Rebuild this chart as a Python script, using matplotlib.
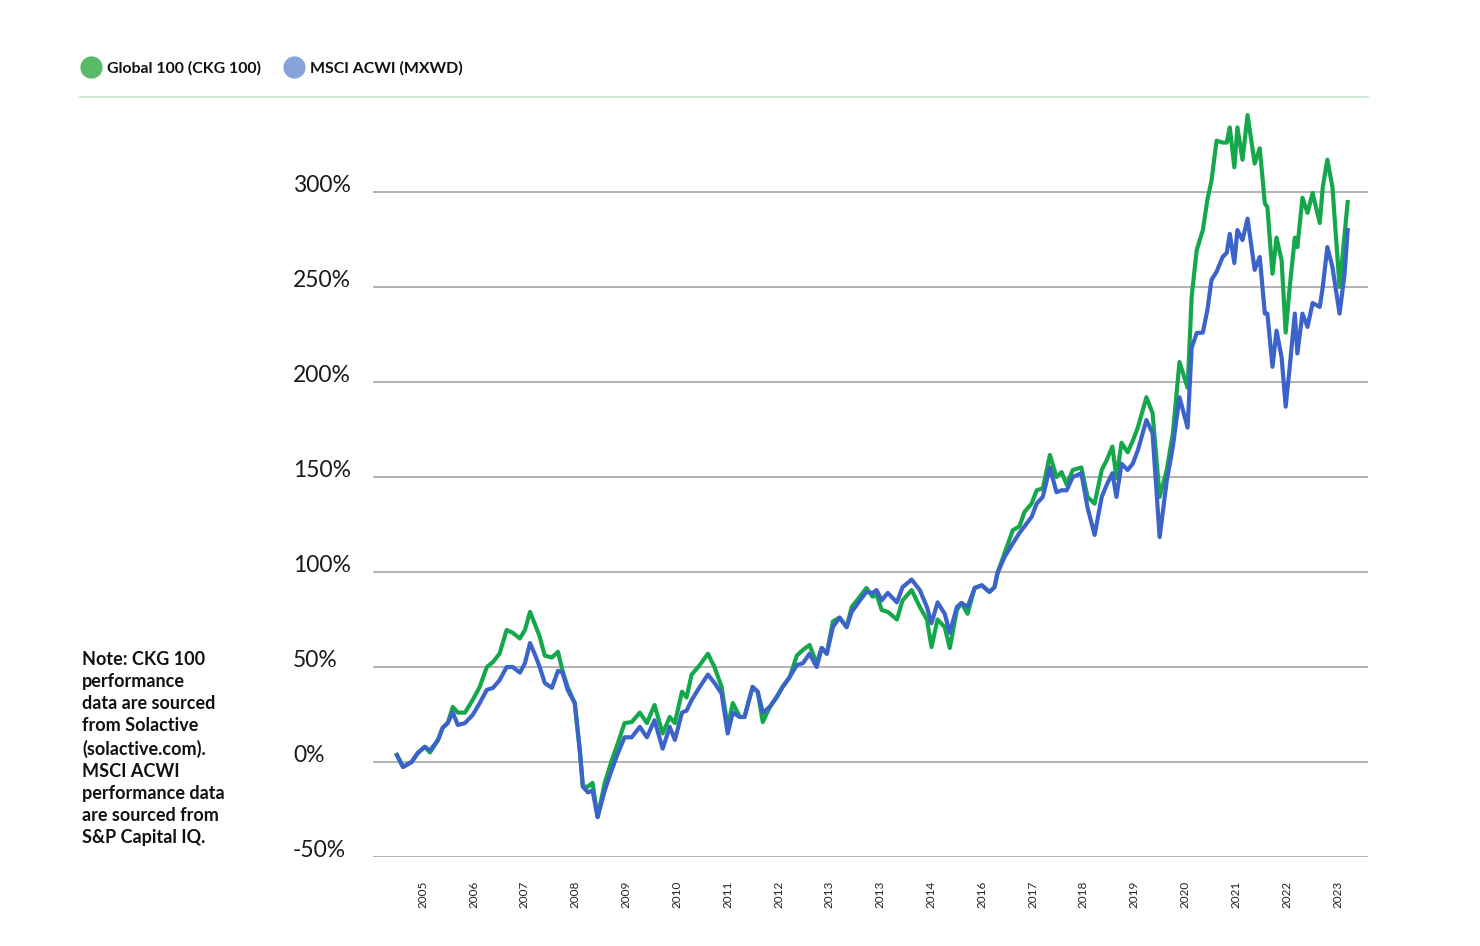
import matplotlib
matplotlib.use("Agg")
import matplotlib.pyplot as plt
from matplotlib.lines import Line2D

plt.rcParams['font.family'] = ['Lato', 'DejaVu Sans']

# time axis in years (positions on the label scale, 2005 label = 2005.0)
t = [2004.49, 2004.61, 2004.78, 2004.90, 2005.04, 2005.14, 2005.30, 2005.39, 2005.49, 2005.59,
     2005.69, 2005.83, 2005.98, 2006.12, 2006.26, 2006.38, 2006.51, 2006.65, 2006.77, 2006.91,
     2007.01, 2007.11, 2007.20, 2007.30, 2007.40, 2007.54, 2007.66, 2007.75, 2007.85, 2007.99,
     2008.09, 2008.15, 2008.25, 2008.34, 2008.44, 2008.58, 2008.72, 2008.84, 2008.97, 2009.11,
     2009.27, 2009.41, 2009.56, 2009.72, 2009.86, 2009.96, 2010.10, 2010.19, 2010.29, 2010.45,
     2010.61, 2010.74, 2010.88, 2011.00, 2011.10, 2011.24, 2011.33, 2011.49, 2011.59, 2011.69,
     2011.83, 2011.96, 2012.08, 2012.22, 2012.36, 2012.48, 2012.61, 2012.75, 2012.85, 2012.95,
     2013.07, 2013.20, 2013.34, 2013.44, 2013.60, 2013.73, 2013.85, 2013.93, 2014.03, 2014.15,
     2014.33, 2014.44, 2014.62, 2014.78, 2014.92, 2015.01, 2015.13, 2015.27, 2015.37, 2015.51,
     2015.60, 2015.72, 2015.86, 2016.00, 2016.15, 2016.25, 2016.31, 2016.45, 2016.61, 2016.74,
     2016.84, 2016.98, 2017.08, 2017.20, 2017.34, 2017.47, 2017.57, 2017.67, 2017.79, 2017.96,
     2018.08, 2018.22, 2018.36, 2018.46, 2018.57, 2018.65, 2018.75, 2018.87, 2018.97, 2019.07,
     2019.24, 2019.36, 2019.50, 2019.64, 2019.76, 2019.89, 2020.05, 2020.13, 2020.23, 2020.35,
     2020.44, 2020.52, 2020.62, 2020.74, 2020.82, 2020.88, 2020.97, 2021.03, 2021.13, 2021.23,
     2021.37, 2021.47, 2021.57, 2021.62, 2021.72, 2021.80, 2021.90, 2021.98, 2022.06, 2022.16,
     2022.21, 2022.31, 2022.41, 2022.51, 2022.65, 2022.71, 2022.80, 2022.90, 2023.04, 2023.14,
     2023.20]

global_100 = [3.7, -2.6, 0.0, 4.7, 8.0, 5.0, 11.6, 18.0, 20.5, 29.0,
              26.0, 26.0, 32.6, 39.5, 50.0, 52.6, 57.0, 69.5, 68.0, 65.0,
              69.5, 79.0, 73.0, 66.0, 56.0, 55.0, 58.0, 48.0, 39.5, 31.0,
              6.0, -13.0, -13.0, -11.0, -29.0, -11.0, 1.0, 10.0, 20.5, 21.0,
              26.0, 20.5, 30.0, 15.0, 23.7, 20.5, 37.0, 34.0, 46.0, 51.0,
              57.0, 50.0, 39.5, 18.5, 31.0, 23.7, 23.7, 39.5, 37.0, 21.0,
              29.0, 34.0, 39.5, 44.7, 56.0, 59.0, 61.6, 52.0, 60.0, 57.0,
              74.0, 76.0, 71.0, 81.6, 87.0, 91.6, 87.0, 88.0, 80.0, 79.0,
              75.0, 85.0, 90.5, 81.6, 75.0, 60.5, 75.0, 71.0, 60.0, 80.0,
              83.7, 78.0, 91.6, 93.0, 89.5, 92.0, 99.5, 110.0, 122.0, 124.0,
              131.6, 136.0, 143.0, 144.0, 161.6, 150.0, 152.6, 146.0, 153.7, 155.0,
              139.5, 136.0, 153.7, 159.0, 166.0, 149.5, 168.0, 163.0, 169.0, 176.0,
              192.0, 183.7, 139.5, 153.7, 173.0, 210.5, 197.0, 245.0, 269.5, 280.0,
              296.0, 306.0, 327.0, 326.0, 326.0, 334.0, 313.0, 334.0, 317.0, 340.5,
              315.0, 323.0, 294.0, 292.0, 257.0, 276.0, 264.0, 226.0, 250.0, 276.0,
              271.0, 297.0, 289.0, 299.5, 283.7, 302.6, 317.0, 302.6, 250.0, 278.0,
              294.7]

msci_acwi = [3.7, -2.6, 0.0, 4.7, 8.0, 6.0, 11.6, 18.0, 20.5, 26.0,
             19.5, 20.5, 24.7, 31.0, 38.0, 39.0, 43.0, 50.0, 50.0, 47.0,
             52.0, 62.6, 57.0, 50.0, 41.6, 39.0, 48.0, 47.0, 38.0, 31.0,
             6.0, -13.0, -16.0, -15.0, -29.0, -15.0, -4.0, 4.7, 13.0, 13.0,
             18.5, 13.0, 22.0, 7.0, 18.5, 11.6, 26.0, 27.0, 32.6, 39.5,
             46.0, 41.6, 36.0, 15.0, 26.0, 23.7, 23.7, 39.5, 37.0, 26.0,
             29.0, 34.0, 39.5, 44.7, 51.0, 52.0, 57.0, 50.0, 60.0, 57.0,
             71.0, 76.0, 71.0, 79.0, 85.0, 89.5, 89.0, 90.5, 85.0, 89.0,
             84.0, 92.0, 96.0, 90.5, 81.6, 73.0, 84.0, 78.0, 68.0, 81.6,
             83.7, 81.6, 91.6, 93.0, 89.5, 92.0, 99.5, 108.0, 115.0, 120.5,
             124.0, 129.0, 136.0, 139.5, 155.0, 142.0, 143.0, 143.0, 150.0, 152.0,
             134.0, 119.5, 139.5, 146.0, 152.0, 139.5, 157.0, 153.7, 157.0, 164.0,
             180.0, 173.0, 118.4, 148.0, 166.0, 192.0, 176.0, 218.0, 225.8, 226.0,
             238.0, 253.7, 258.0, 265.8, 268.0, 278.0, 262.6, 280.0, 274.7, 286.0,
             259.0, 265.8, 236.0, 236.0, 208.0, 227.0, 213.0, 187.0, 208.0, 236.0,
             215.0, 236.0, 229.0, 241.6, 239.5, 250.0, 271.0, 260.5, 236.0, 257.0,
             280.0]

tick_years = list(range(2005, 2024))
tick_labels = ['2005', '2006', '2007', '2008', '2009', '2010', '2011', '2012', '2013', '2013',
               '2014', '2016', '2017', '2018', '2019', '2020', '2021', '2022', '2023']
y_ticks = [-50, 0, 50, 100, 150, 200, 250, 300]

series_names = ['Global 100 (CKG 100)', 'MSCI ACWI (MXWD)']
GREEN = '#14a84b'
BLUE = '#3c63c9'

W, H = 1480, 946
fig = plt.figure(figsize=(W / 100, H / 100), dpi=100)
ax = fig.add_axes([373 / W, 1 - 857 / H, 995 / W, 760 / H])

ax.plot(t, msci_acwi, color=BLUE, lw=3.0, solid_joinstyle='round', zorder=3)
ax.plot(t, global_100, color=GREEN, lw=3.0, solid_joinstyle='round', zorder=2)

ax.set_xlim(2004.02, 2023.60)
ax.set_ylim(-50, 350)
ax.set_yticks(y_ticks)
ax.set_yticklabels([])
ax.tick_params(axis='y', length=0)
ax.grid(axis='y', color='#b3b3b3', lw=1.4)
ax.set_axisbelow(True)
for sp in ax.spines.values():
    sp.set_visible(False)

ax.set_xticks(tick_years)
ax.set_xticklabels(tick_labels, rotation=90, fontsize=8.5, color='#222222')
ax.tick_params(axis='x', length=0, pad=17)

for v in y_ticks:
    ax.text(-0.0804, v, f'{v}%', transform=ax.get_yaxis_transform(),
            ha='left', va='baseline', fontsize=16.5, color='#1a1a1a')

# legend, drawn by hand so the dots and labels sit where the original has them
legend_colors = ['#58bb68', '#87a4da']
legend_x = [91, 294]
for name, col, x0 in zip(series_names, legend_colors, legend_x):
    fig.add_artist(Line2D([x0 / W], [1 - 67 / H], ls='none', marker='o', ms=15,
                          color=col, transform=fig.transFigure))
    fig.text((x0 + 16) / W, 1 - 67 / H, name, ha='left', va='center_baseline',
             fontsize=11.4, fontweight='bold', color='#111111')

fig.add_artist(Line2D([80 / W, 1368 / W], [1 - 97 / H, 1 - 97 / H],
                      color='#c2e6cb', lw=1.2, transform=fig.transFigure))

note = ("Note: CKG 100\nperformance\ndata are sourced\nfrom Solactive\n(solactive.com).\n"
        "MSCI ACWI\nperformance data\nare sourced from\nS&P Capital IQ.")
fig.text(82 / W, 1 - 651 / H, note, ha='left', va='top', fontsize=13,
         fontweight='bold', linespacing=1.36, color='#111111')

fig.savefig('out.png', dpi=100)
